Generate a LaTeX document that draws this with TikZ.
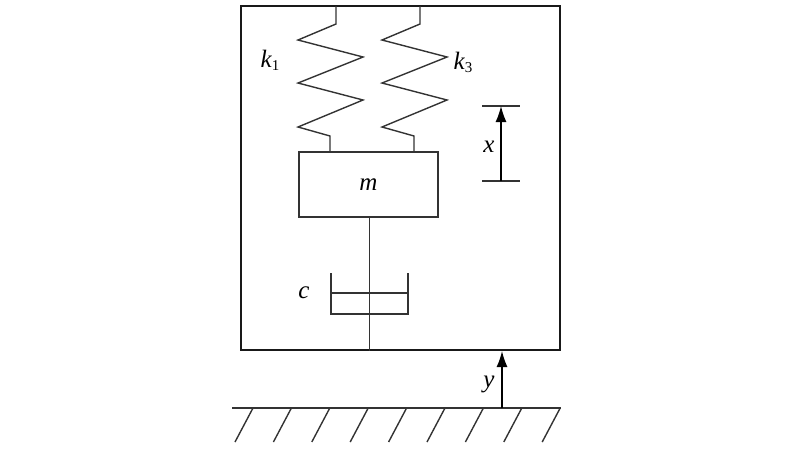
\documentclass[tikz,border=0pt]{standalone}
\usepackage{fontspec}
\setmainfont{Liberation Serif}
\usetikzlibrary{arrows.meta, positioning}

\begin{document}
\begin{tikzpicture}[
  x=1pt, y=-1pt,
  every node/.style={font=\fontsize{25}{30}\selectfont\itshape, inner sep=0pt},
  thin line/.style={draw=black!80, line width=1.4pt},
  frame box/.style={draw=black!90, line width=2pt, minimum width=319pt, minimum height=344pt},
  mass box/.style={draw=black!80, line width=1.4pt, minimum width=139pt, minimum height=65pt},
  move/.style={draw=black, line width=1.4pt, -{Latex[length=16pt,width=11pt]}},
]
\useasboundingbox (0,0) rectangle (800,451);

\node[name=frame, frame box] at (400.5,178) {};
\node[name=mass, mass box] at (368.5,184.5) {m};

% springs
\coordinate (k1top) at (336,6);
\coordinate (k3top) at (420,6);
\foreach \s in {k1top,k3top}
  \draw[thin line] (\s) -- ++(0,18) -- ++(-38,16) -- ++(65,17) -- ++(-65,26)
    -- ++(65,17) -- ++(-65,27) -- ++(32,9) -- ++(0,16);
\node[name=k1] at (270,60) {k\raisebox{-0.12em}{\fontsize{15}{15}\selectfont\upshape 1}};
\node[name=k3] at (463,62) {k\raisebox{-0.12em}{\fontsize{15}{15}\selectfont\upshape 3}};

% damper
\coordinate (damp) at (369.5,293);
\draw[thin line] (mass.south -| damp) -- (frame.south -| damp);
\draw[thin line] ([xshift=-38.5pt,yshift=20pt]damp) -- ([xshift=-38.5pt,yshift=-21pt]damp)
  -- ([xshift=38.5pt,yshift=-21pt]damp) -- ([xshift=38.5pt,yshift=20pt]damp);
\draw[thin line] ([xshift=-38.5pt]damp) -- ([xshift=38.5pt]damp);
\node[name=c] at (304,293) {c};

% displacement x
\coordinate (xlo) at (501,181);
\coordinate (xhi) at (501,106);
\draw[thin line] ([xshift=-19pt]xlo) -- ([xshift=19pt]xlo);
\draw[thin line] ([xshift=-19pt]xhi) -- ([xshift=19pt]xhi);
\draw[move] (xlo) -- (xhi);
\node[name=xlab] at (489,147) {x};

% ground and base motion y
\coordinate (gl) at (232,408);
\coordinate (gr) at (561,408);
\draw[thin line] (gl) -- (gr);
\foreach \i in {0,...,8}
  \draw[thin line] (253+38.4*\i,408) -- ++(-18,34);
\coordinate (yfoot) at (502,408);
\draw[move] (yfoot) -- (yfoot |- frame.south);
\node[name=ylab] at (489,384) {y};
\end{tikzpicture}
\end{document}
